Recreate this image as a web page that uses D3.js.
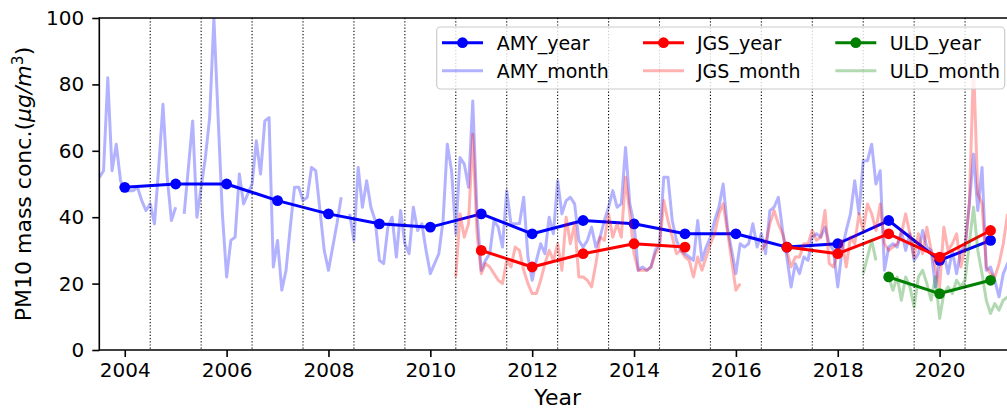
<!DOCTYPE html>
<html>
<head>
<meta charset="utf-8">
<script src="https://cdn.jsdelivr.net/npm/d3@7"></script>
<style>
  body { margin: 0; background: #fff; }
  svg { display: block; }
  text { font-family: "DejaVu Sans", sans-serif; fill: #000; }
</style>
</head>
<body>
<svg id="chart" width="1007" height="411"></svg>
<script>
// Annual means, one value per calendar year (null = no data)
const years = [2004, 2005, 2006, 2007, 2008, 2009, 2010, 2011, 2012,
               2013, 2014, 2015, 2016, 2017, 2018, 2019, 2020, 2021];
const amyYear = [49, 50, 50, 45, 41, 38, 37, 41, 35, 39, 38, 35, 35, 31, 32, 39, 27, 33];
const jgsYear = [null, null, null, null, null, null, null, 30, 25, 29, 32, 31, null, 31, 29, 35, 28, 36];
const uldYear = [null, null, null, null, null, null, null, null, null, null, null, null, null, null, null, 22, 17, 21];

// Monthly means; each series starts at the given decimal year, one value per month
const amyMonthStart = 2003.5;
const amyMonth = [
  52, 54, 82, 54, 62, 51, 48, 48, 48, 49, 45, 42,
  44, 38, 55, 74, 52, 39, 43, null, 41, 55, 69, 40,
  49, 58, 70, 100, 70, 41, 22, 33, 34, 53, 44, 47,
  50, 63, 53, 69, 70, 25, 33, 18, 24, 37, 49, 49,
  45, 46, 55, 54, 42, 30, 24, 31, 38, 46, null, 41,
  33, 55, 43, 51, 43, 39, 27, 26, 37, 40, 28, 42,
  32, 29, 43, 36, 38, 30, 23, 26, 29, 39, 62, 54,
  35, 58, 56, 49, 75, 41, 24, 27, 29, 39, 37, 31,
  48, 38, 38, 38, 46, 28, 21, 27, 32, 29, 40, 35,
  51, 41, 45, 46, 44, 33, 31, 33, 37, 31, 34, 39,
  43, 48, 43, 44, 61, 44, 38, 24, 25, 24, 25, 30,
  32, 52, 52, 39, 33, 30, 29, 28, 27, 39, 27, 31,
  34, 39, 43, 50, 37, 30, 23, 32, 31, 32, 38, 31,
  35, 29, 42, 43, 46, 36, 28, 19, 26, 23, 28, 27,
  34, 35, 34, 37, 32, 30, 19, 30, 36, 41, 51, 41,
  57, 57, 62, 50, 54, 24, 31, 32, 31, 36, 30, 35,
  27, 29, 36, 31, 30, 19, 27, 29, 23, 30, 23, 30,
  31, 44, 59, 42, 55, 24, 25, 21, 16, 23, 26, 28
];
const jgsMonthStart = 2010.5;
const jgsMonth = [
  22, 41, 34, 38, 65, 35, 23, 26, 25, 23, 21, 20,
  27, 25, 31, 30, 24, 20, 17, 17, 21, 26, 30, 27,
  32, 24, 40, 32, 38, 22, 22, 21, 19, 26, 34, 33,
  41, 34, 38, 34, 52, 41, 29, 24, 24, 24, 25, 29,
  31, 45, 39, 34, 29, 30, 28, 27, 22, 28, 24, 28,
  32, 35, 41, 44, 36, 27, 18, 20, null, null, null, null,
  30, 32, 38, 42, 38, 35, 30, 25, 28, 28, 32, 32,
  36, 33, 34, 42, 26, 25, 29, 33, 25, 34, 32, 41,
  36, 44, 41, 36, 44, 32, 30, 31, 32, 35, 41, 35,
  28, 35, 29, 37, 30, 25, 19, 37, 30, 32, 35, 25,
  31, 44, 86, 47, 44, 25, 23, 22, 26, 32, 41
];
const uldMonthStart = 2018.5;
const uldMonth = [
  23, 28, 33, 27, null, null, 22, 18, 22, 15, 22, 19,
  13, 22, 24, 20, 15, 22, 9.5, 17, 19, 17, 21, 19,
  21, 32, 43, 30, 23, 15, 11, 14, 12, 15, 16
];

const xTicks = [2004, 2006, 2008, 2010, 2012, 2014, 2016, 2018, 2020];
const yTicks = [0, 20, 40, 60, 80, 100];
const dividers = d3.range(2004.5, 2021, 1);

const svg = d3.select("#chart");
const plot = { left: 99.3, right: 1016, top: 18, bottom: 350 };

const x = d3.scaleLinear().domain([2003.5, 2021.5]).range([plot.left, plot.right]);
const y = d3.scaleLinear().domain([0, 100]).range([plot.bottom, plot.top]);

svg.append("defs").append("clipPath").attr("id", "plot-clip")
  .append("rect")
  .attr("x", plot.left).attr("y", plot.top)
  .attr("width", plot.right - plot.left).attr("height", plot.bottom - plot.top);

const area = svg.append("g").attr("clip-path", "url(#plot-clip)");

const line = d3.line()
  .defined(d => d.v != null)
  .x(d => x(d.t))
  .y(d => y(d.v));

const yearPts = vals => years.map((t, i) => ({ t, v: vals[i] }));
const monthPts = (start, vals) => vals.map((v, i) => ({ t: start + i / 12, v }));

const series = [
  { kind: "year", color: "#0000ff", data: yearPts(amyYear) },
  { kind: "month", color: "#0000ff", data: monthPts(amyMonthStart, amyMonth) },
  { kind: "year", color: "#ff0000", data: yearPts(jgsYear) },
  { kind: "month", color: "#ff0000", data: monthPts(jgsMonthStart, jgsMonth) },
  { kind: "year", color: "#008000", data: yearPts(uldYear) },
  { kind: "month", color: "#008000", data: monthPts(uldMonthStart, uldMonth) }
];

series.forEach(s => {
  if (s.kind === "month") {
    area.append("path")
      .attr("d", line(s.data))
      .attr("fill", "none")
      .attr("stroke", s.color)
      .attr("stroke-opacity", 0.3)
      .attr("stroke-width", 3)
      .attr("stroke-linejoin", "round");
  } else {
    area.append("path")
      .attr("d", line(s.data))
      .attr("fill", "none")
      .attr("stroke", s.color)
      .attr("stroke-width", 3)
      .attr("stroke-linejoin", "round");
    area.selectAll(null)
      .data(s.data.filter(d => d.v != null))
      .join("circle")
      .attr("cx", d => x(d.t))
      .attr("cy", d => y(d.v))
      .attr("r", 5.4)
      .attr("fill", s.color);
  }
});

// dotted year dividers
area.selectAll(null)
  .data(dividers)
  .join("line")
  .attr("x1", d => x(d)).attr("x2", d => x(d))
  .attr("y1", plot.top).attr("y2", plot.bottom)
  .attr("stroke", "#000")
  .attr("stroke-width", 1.1)
  .attr("stroke-dasharray", "1.2,2");

// axes
const xAxis = svg.append("g")
  .attr("transform", `translate(0,${plot.bottom})`)
  .call(d3.axisBottom(x).tickValues(xTicks).tickFormat(d3.format("d")).tickSize(7).tickPadding(6));
const yAxis = svg.append("g")
  .attr("transform", `translate(${plot.left},0)`)
  .call(d3.axisLeft(y).tickValues(yTicks).tickSize(7).tickPadding(8));

[xAxis, yAxis].forEach(g => {
  g.select(".domain").remove();
  g.selectAll(".tick line").attr("stroke", "#000").attr("stroke-width", 1.6);
  g.selectAll(".tick text")
    .attr("font-family", "DejaVu Sans, sans-serif")
    .attr("font-size", 20)
    .attr("fill", "#000");
});

// spines
const spines = svg.append("g").attr("stroke", "#000").attr("stroke-width", 1.6).attr("fill", "none");
spines.append("line").attr("x1", plot.left).attr("x2", plot.left).attr("y1", plot.top - 0.8).attr("y2", plot.bottom + 0.8);
spines.append("line").attr("x1", plot.left).attr("x2", plot.right).attr("y1", plot.bottom).attr("y2", plot.bottom);
spines.append("line").attr("x1", plot.left).attr("x2", plot.right).attr("y1", plot.top).attr("y2", plot.top);

// axis titles
svg.append("text")
  .attr("x", (plot.left + plot.right) / 2)
  .attr("y", 405)
  .attr("text-anchor", "middle")
  .attr("font-size", 22)
  .text("Year");

const yTitle = svg.append("text")
  .attr("transform", `translate(31,${(plot.top + plot.bottom) / 2}) rotate(-90)`)
  .attr("text-anchor", "middle")
  .attr("font-size", 22);
yTitle.append("tspan").text("PM10 mass conc.(");
yTitle.append("tspan").attr("font-style", "italic").text("μg/m");
yTitle.append("tspan").attr("font-size", 15.5).attr("dy", -8.5).text("3");
yTitle.append("tspan").attr("dy", 8.5).text(")");

// legend
const legend = svg.append("g");
legend.append("rect")
  .attr("x", 436.7).attr("y", 27)
  .attr("width", 568).attr("height", 62)
  .attr("rx", 4)
  .attr("fill", "#fff").attr("fill-opacity", 0.8)
  .attr("stroke", "#cccccc").attr("stroke-width", 1.2);

const legendItems = [
  { label: "AMY_year", color: "#0000ff", kind: "year", hx: 442, tx: 496.7, ty: 42.7 },
  { label: "AMY_month", color: "#0000ff", kind: "month", hx: 442, tx: 496.7, ty: 70.7 },
  { label: "JGS_year", color: "#ff0000", kind: "year", hx: 643, tx: 697, ty: 42.7 },
  { label: "JGS_month", color: "#ff0000", kind: "month", hx: 643, tx: 697, ty: 70.7 },
  { label: "ULD_year", color: "#008000", kind: "year", hx: 835.3, tx: 889.7, ty: 42.7 },
  { label: "ULD_month", color: "#008000", kind: "month", hx: 835.3, tx: 889.7, ty: 70.7 }
];
legendItems.forEach(it => {
  legend.append("line")
    .attr("x1", it.hx).attr("x2", it.hx + 41)
    .attr("y1", it.ty).attr("y2", it.ty)
    .attr("stroke", it.color)
    .attr("stroke-width", 3)
    .attr("stroke-opacity", it.kind === "month" ? 0.3 : 1);
  if (it.kind === "year") {
    legend.append("circle")
      .attr("cx", it.hx + 20.5).attr("cy", it.ty).attr("r", 5.4).attr("fill", it.color);
  }
  legend.append("text")
    .attr("x", it.tx).attr("y", it.ty + 7)
    .attr("font-size", 19)
    .text(it.label);
});
</script>
</body>
</html>
